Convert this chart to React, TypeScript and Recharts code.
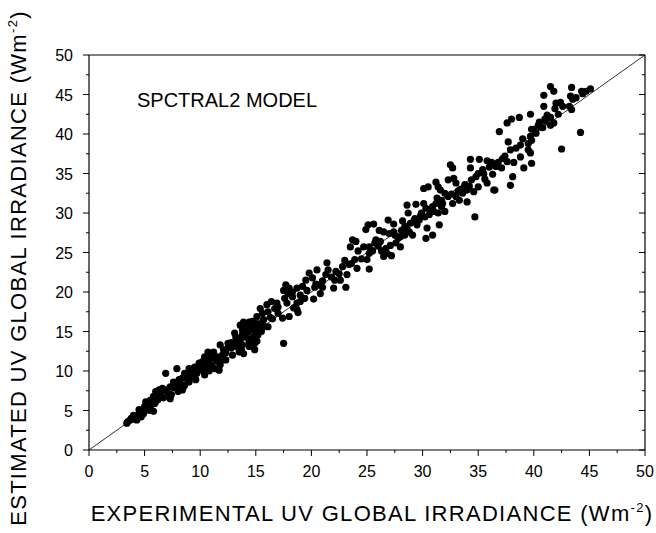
import React from "react";
import {
  ScatterChart,
  Scatter,
  XAxis,
  YAxis,
  ReferenceLine,
} from "recharts";

const W = 656;
const H = 533;
const FONT = "'Liberation Sans', Arial, Helvetica, sans-serif";

const pointsHigh: [number, number][] = [
  [41.5, 46.0], [41.8, 45.4], [40.9, 44.9], [43.4, 45.9], [44.3, 45.4], [44.7, 45.4],
  [45.1, 45.7], [43.3, 44.8], [43.5, 44.4], [42.4, 44.0], [42.0, 43.9], [43.2, 43.5],
  [43.4, 43.1], [40.9, 43.5], [41.9, 43.2], [42.2, 42.5], [41.5, 42.1], [41.1, 41.6],
  [39.7, 42.5], [38.7, 42.1], [38.0, 41.9], [37.6, 41.4], [40.4, 41.1], [40.8, 40.8],
  [41.5, 41.1], [41.8, 41.4], [39.8, 40.6], [40.2, 40.1], [39.7, 39.7], [36.9, 40.3],
  [44.2, 40.2], [42.5, 38.1], [39.8, 39.2], [39.5, 38.8], [38.8, 38.6], [37.7, 39.0],
  [37.9, 38.0], [39.5, 38.0], [38.8, 37.1], [39.7, 37.6], [37.2, 36.9], [37.6, 36.5],
  [38.2, 36.4], [39.8, 36.3], [40.0, 40.6], [40.5, 41.5], [41.2, 42.4], [42.6, 43.5],
  [43.8, 44.6], [44.4, 45.1], [38.4, 38.2], [39.0, 39.4], [37.4, 37.2], [40.6, 40.9],
  [41.0, 41.9],
];

const pointsUpper: [number, number][] = [
  [39.1, 35.7], [38.1, 34.6], [37.9, 33.5], [37.1, 35.7], [36.6, 35.9], [34.3, 36.8],
  [35.1, 36.8], [35.8, 36.6], [34.3, 35.7], [35.0, 35.0], [35.5, 35.0], [36.3, 34.9],
  [35.8, 33.8], [36.4, 32.9], [35.0, 33.3], [34.6, 32.7], [34.0, 32.9], [33.6, 32.5],
  [33.0, 32.1], [33.3, 31.6], [34.0, 31.4], [32.5, 36.1], [32.7, 35.7], [32.3, 34.2],
  [32.8, 34.4], [31.4, 33.3], [31.6, 32.9], [31.2, 33.9], [30.1, 33.1], [30.5, 33.3],
  [34.7, 29.5], [36.5, 32.9], [32.0, 32.5], [32.3, 32.1], [32.7, 31.2], [31.7, 31.6],
  [31.2, 31.2], [30.9, 30.8], [31.7, 30.8], [32.0, 30.2], [31.4, 30.0], [30.7, 30.2],
  [30.1, 31.2], [29.4, 31.1], [28.6, 31.0], [28.7, 30.0], [29.9, 30.0], [30.2, 29.5],
  [29.7, 29.1], [29.5, 28.5], [30.4, 28.1], [31.5, 28.5], [29.3, 29.3], [28.9, 28.7],
  [28.4, 28.3], [35.4, 35.5], [36.0, 35.8], [36.8, 36.4], [33.4, 33.0], [33.8, 33.6],
  [34.4, 34.2], [32.6, 32.4], [31.8, 31.2], [31.0, 30.2], [30.6, 29.8], [29.8, 29.6],
  [29.2, 28.9], [33.2, 32.8], [34.8, 34.6], [35.6, 34.3], [36.2, 36.4], [33.0, 33.8],
  [34.2, 33.4], [31.3, 31.9], [30.3, 30.6], [28.2, 29.0],
];

const pointsMid: [number, number][] = [
  [30.9, 27.2], [30.3, 26.8], [28.1, 27.8], [28.8, 27.6], [28.4, 27.2], [28.0, 27.0],
  [27.5, 27.2], [29.1, 27.2], [26.9, 29.1], [27.4, 28.6], [26.1, 27.8], [26.5, 27.6],
  [27.0, 27.4], [24.9, 27.9], [25.1, 28.5], [25.6, 28.6], [27.6, 26.2], [28.0, 25.7],
  [27.1, 25.9], [26.7, 25.5], [26.3, 25.2], [26.8, 24.9], [27.2, 24.6], [26.5, 24.5],
  [25.7, 26.2], [25.2, 25.7], [24.7, 25.7], [24.2, 25.2], [23.7, 26.6], [23.5, 25.7],
  [24.0, 26.4], [25.2, 24.9], [25.0, 24.1], [25.2, 22.9], [23.9, 24.1], [23.6, 23.6],
  [24.1, 23.0], [23.2, 22.2], [22.6, 21.5], [22.1, 21.5], [23.1, 20.6], [22.0, 20.5],
  [21.4, 23.7], [21.5, 22.8], [22.2, 22.6], [21.3, 22.2], [20.5, 22.8], [19.8, 22.4],
  [20.1, 21.8], [19.5, 21.5], [20.6, 20.9], [20.3, 20.6], [20.8, 19.8], [20.2, 19.1],
  [19.2, 20.7], [18.7, 20.5], [18.3, 20.0], [17.7, 20.9], [18.0, 20.5], [17.5, 20.2],
  [17.9, 19.8], [17.6, 19.2], [18.3, 19.4], [19.0, 19.6], [18.7, 18.6], [18.7, 17.8],
  [18.8, 17.4], [18.0, 16.9], [17.4, 16.7], [16.9, 18.6], [16.4, 18.8], [16.0, 18.4],
  [15.4, 17.9], [16.7, 17.9], [17.0, 18.1], [16.1, 17.5], [15.6, 17.3], [15.1, 16.9],
  [15.7, 16.5], [16.5, 16.6], [17.0, 17.3], [17.8, 18.6], [18.4, 18.0], [19.4, 19.2],
  [19.6, 20.2], [20.4, 21.0], [21.0, 21.4], [21.8, 21.9], [22.5, 22.3], [23.4, 23.5],
  [24.5, 24.2], [25.5, 25.2], [26.2, 26.4], [27.4, 27.6], [27.8, 26.8], [28.6, 28.0],
  [26.0, 25.8], [25.8, 26.6], [22.8, 23.2], [23.0, 24.0], [21.0, 20.6], [19.0, 18.8],
];

const pointsLow: [number, number][] = [
  [16.1, 15.6], [17.5, 13.5], [15.6, 15.5], [15.1, 16.0], [14.8, 15.6], [14.4, 16.2],
  [13.9, 16.2], [13.6, 15.8], [14.1, 15.6], [14.4, 15.2], [13.8, 15.2], [14.9, 15.0],
  [15.2, 14.6], [14.8, 14.3], [14.1, 14.3], [13.8, 14.6], [13.1, 14.8], [13.5, 13.9],
  [14.4, 13.7], [14.9, 13.5], [14.4, 13.1], [13.8, 13.3], [13.3, 13.1], [12.8, 12.9],
  [13.5, 12.4], [13.9, 12.2], [12.9, 12.0], [12.5, 13.5], [12.5, 12.9], [11.8, 13.3],
  [12.1, 12.7], [12.0, 12.0], [12.3, 11.4], [11.5, 11.8], [11.2, 12.4], [10.7, 12.4],
  [11.0, 11.8], [10.4, 11.8], [11.5, 11.2], [11.8, 10.8], [11.3, 10.3], [11.7, 10.1],
  [10.8, 11.2], [10.2, 11.2], [10.5, 10.8], [9.9, 11.0], [9.5, 10.5], [9.2, 10.1],
  [10.2, 10.1], [10.4, 9.5], [9.7, 9.7], [8.9, 9.7], [9.2, 9.3], [8.6, 9.7],
  [7.9, 10.3], [8.4, 9.1], [8.1, 8.9], [8.9, 8.9], [8.6, 8.2], [7.9, 8.2],
  [7.6, 8.6], [7.3, 8.0], [8.1, 7.8], [8.4, 7.6], [6.9, 7.6], [6.9, 9.7],
  [6.6, 7.8], [6.3, 7.6], [6.0, 7.4], [6.4, 7.0], [7.3, 6.5], [5.8, 6.8],
  [5.5, 6.3], [6.0, 6.1], [5.6, 5.7], [5.1, 6.1], [5.0, 5.5], [5.3, 5.3],
  [5.8, 4.9], [4.8, 4.9], [4.5, 5.1], [4.3, 4.4], [4.0, 4.4], [4.7, 4.2],
  [4.2, 4.0], [3.8, 4.0], [3.7, 3.8], [3.5, 3.6], [3.4, 3.4], [4.3, 3.8],
  [14.2, 16.0], [14.6, 15.9], [15.0, 15.4], [14.3, 14.9], [14.0, 15.0], [15.3, 15.8],
  [14.7, 16.3], [15.5, 15.0], [14.5, 14.0], [15.1, 13.8], [14.9, 12.7], [13.2, 13.6],
  [13.7, 12.8], [15.6, 16.2], [9.0, 10.3], [9.4, 9.5], [9.8, 10.4], [10.1, 10.6],
  [10.6, 10.3], [10.8, 10.0], [11.0, 10.7], [11.3, 11.6], [9.6, 8.9], [8.8, 9.3],
  [8.2, 8.4], [7.6, 7.9], [8.0, 7.4], [7.1, 7.2], [6.7, 6.6], [6.2, 6.4],
  [5.9, 5.9], [5.4, 5.0], [4.9, 4.6], [4.5, 4.2], [3.9, 3.9], [4.6, 4.8],
  [5.2, 5.8], [6.5, 7.3], [7.4, 7.0], [8.5, 8.0], [9.0, 8.6], [11.8, 11.2],
  [12.3, 12.3], [12.8, 13.6], [13.2, 14.3], [13.6, 14.0], [16.3, 16.8],
];

const allTicks = [0, 2.5, 5, 7.5, 10, 12.5, 15, 17.5, 20, 22.5, 25, 27.5, 30, 32.5, 35, 37.5, 40, 42.5, 45, 47.5, 50];
const DOMAIN: [number, number] = [0, 50];

const data = [...pointsLow, ...pointsMid, ...pointsUpper, ...pointsHigh].map(([x, y]) => ({ x, y }));

const isMajor = (v: number) => v % 5 === 0;
const MAJOR = 6;
const MINOR = 3;

function tickFactory(side: "bottom" | "left" | "top" | "right") {
  return (props: any) => {
    const { x, y, payload } = props;
    const v = payload.value as number;
    const len = isMajor(v) ? MAJOR : MINOR;
    if (side === "bottom") {
      return (
        <g>
          <line x1={x} y1={y} x2={x} y2={y + len} stroke="#000" strokeWidth={1} />
          {isMajor(v) && (
            <text x={x} y={y + 27} textAnchor="middle" fontSize={16} fontFamily={FONT} fill="#000">
              {v}
            </text>
          )}
        </g>
      );
    }
    if (side === "left") {
      return (
        <g>
          <line x1={x} y1={y} x2={x - len} y2={y} stroke="#000" strokeWidth={1} />
          {isMajor(v) && (
            <text x={x - 16} y={y + 6} textAnchor="end" fontSize={16} fontFamily={FONT} fill="#000">
              {v}
            </text>
          )}
        </g>
      );
    }
    if (side === "top") {
      return <line x1={x} y1={y} x2={x} y2={y + len} stroke="#000" strokeWidth={1} />;
    }
    return <line x1={x} y1={y} x2={x - len} y2={y} stroke="#000" strokeWidth={1} />;
  };
}

export default function App() {
  return (
    <div style={{ position: "absolute", left: 0, top: 0, width: W, height: H, background: "#fff" }}>
      <ScatterChart width={W} height={H} margin={{ top: 54, right: 10, bottom: 82, left: 88 }}>
        <XAxis
          xAxisId="bottom"
          dataKey="x"
          type="number"
          domain={DOMAIN}
          ticks={allTicks}
          interval={0}
          height={1}
          tickSize={0}
          tickMargin={0}
          axisLine={{ stroke: "#000", strokeWidth: 1.2 }}
          tickLine={false}
          tick={tickFactory("bottom")}
          allowDataOverflow
        />
        <XAxis
          xAxisId="top"
          orientation="top"
          type="number"
          domain={DOMAIN}
          ticks={allTicks}
          interval={0}
          height={1}
          tickSize={0}
          tickMargin={0}
          axisLine={{ stroke: "#000", strokeWidth: 1.2 }}
          tickLine={false}
          tick={tickFactory("top")}
          allowDataOverflow
        />
        <YAxis
          yAxisId="left"
          dataKey="y"
          type="number"
          domain={DOMAIN}
          ticks={allTicks}
          interval={0}
          width={1}
          tickSize={0}
          tickMargin={0}
          axisLine={{ stroke: "#000", strokeWidth: 1.2 }}
          tickLine={false}
          tick={tickFactory("left")}
          allowDataOverflow
        />
        <YAxis
          yAxisId="right"
          orientation="right"
          type="number"
          domain={DOMAIN}
          ticks={allTicks}
          interval={0}
          width={1}
          tickSize={0}
          tickMargin={0}
          axisLine={{ stroke: "#000", strokeWidth: 1.2 }}
          tickLine={false}
          tick={tickFactory("right")}
          allowDataOverflow
        />
        <ReferenceLine
          xAxisId="bottom"
          yAxisId="left"
          segment={[{ x: 0, y: 0 }, { x: 50, y: 50 }]}
          stroke="#000"
          strokeWidth={0.8}
          ifOverflow="visible"
        />
        <Scatter
          xAxisId="bottom"
          yAxisId="left"
          data={data}
          fill="#000"
          shape={(p: any) => <circle cx={p.cx} cy={p.cy} r={3.6} fill="#000" />}
          isAnimationActive={false}
        />
      </ScatterChart>
      <svg
        width={W}
        height={H}
        style={{ position: "absolute", left: 0, top: 0, pointerEvents: "none" }}
      >
        <text x={137} y={107} fontSize={20} fontFamily={FONT} fill="#000">
          SPCTRAL2 MODEL
        </text>
        <text
          x={372}
          y={521}
          textAnchor="middle"
          fontSize={22}
          letterSpacing={1.3}
          fontFamily={FONT}
          fill="#000"
        >
          EXPERIMENTAL UV GLOBAL IRRADIANCE (Wm
          <tspan fontSize={13} dy={-9}>-2</tspan>
          <tspan dy={9}>)</tspan>
        </text>
        <text
          x={26}
          y={268}
          transform="rotate(-90 26 268)"
          textAnchor="middle"
          fontSize={22}
          letterSpacing={1.3}
          fontFamily={FONT}
          fill="#000"
        >
          ESTIMATED UV GLOBAL IRRADIANCE (Wm
          <tspan fontSize={13} dy={-9}>-2</tspan>
          <tspan dy={9}>)</tspan>
        </text>
      </svg>
    </div>
  );
}
